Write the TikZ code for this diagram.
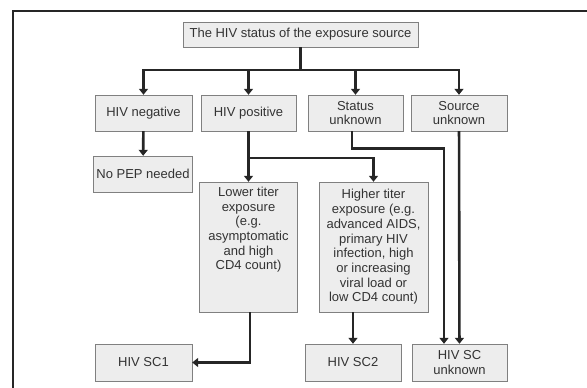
\documentclass[tikz,border=0pt]{standalone}
\usepackage{fontspec}
\setmainfont{Liberation Sans}
\usetikzlibrary{arrows.meta}

\tikzset{
    box/.style={draw=black!50, fill=black!7, rectangle, inner sep=3pt,
        align=center, text=black!80, font=\fontsize{13}{14.7}\selectfont},
    arr/.style={line width=2.6pt, black!85, -{Triangle[length=6pt, width=9pt]}}
}

\begin{document}
\begin{tikzpicture}[x=1pt, y=-1pt]
    \useasboundingbox (0,0) rectangle (587,388);
    % Draw the outer frame
    \draw[line width=2pt, black!85] (12.5,390) -- (12.5,11) -- (590,11);
    % Draw the top box and the four status boxes
    \node[box, minimum width=235pt, minimum height=25pt] (src) at (300.5,34.5) {The HIV status of the exposure source};
    \node[box, minimum width=97pt, minimum height=36pt] (neg) at (143.5,113) {HIV negative};
    \node[box, minimum width=95pt, minimum height=36pt] (pos) at (248.5,113) {HIV positive};
    \node[box, minimum width=95pt, minimum height=36pt] (stat) at (355.5,113) {Status\\unknown};
    \node[box, minimum width=96pt, minimum height=36pt] (srcunk) at (459,113) {Source\\unknown};
    % Draw the middle boxes
    \node[box, minimum width=98pt, minimum height=36pt] (nopep) at (143,174) {No PEP needed};
    \node[box, minimum width=97pt, minimum height=130pt] (low) at (248.5,247)
        {\parbox[c][120pt][t]{92pt}{\centering Lower titer\\exposure\\(e.g.\\asymptomatic\\and high\\CD4 count)}};
    \node[box, minimum width=109pt, minimum height=130pt] (high) at (373.5,247)
        {Higher titer\\exposure (e.g.\\advanced AIDS,\\primary HIV\\infection, high\\or increasing\\viral load or\\low CD4 count)};
    % Draw the bottom boxes
    \node[box, minimum width=97pt, minimum height=37pt] (sc1) at (143.5,362.5) {HIV SC1};
    \node[box, minimum width=96pt, minimum height=37pt] (sc2) at (353,362.5) {HIV SC2};
    \node[box, minimum width=95pt, minimum height=37pt] (scunk) at (459.5,362.5) {HIV SC\\unknown};
    % Draw the bus under the top box
    \coordinate (bus) at (300.5,70);
    \draw[line width=2.6pt, black!85] (src.south) -- (bus);
    \foreach \n in {neg, pos, stat, srcunk} {
        \draw[arr] (bus) -| (\n.north);
    }
    % Draw the arrows below the status boxes
    \draw[arr] (neg) -- (nopep);
    \draw[arr] (pos) -- (low);
    \coordinate (split) at (248.5,158);
    \draw[arr] (split) -| (high.north);
    \draw[arr] ([xshift=1.5pt]low.south) |- (sc1.east);
    \draw[arr] (high.south -| sc2.north) -- (sc2.north);
    \draw[arr] ([xshift=-3.5pt]stat.south) -- ++(0,17) -| ([xshift=-15.5pt]scunk.north);
    \draw[arr] (srcunk) -- (scunk);
\end{tikzpicture}
\end{document}
